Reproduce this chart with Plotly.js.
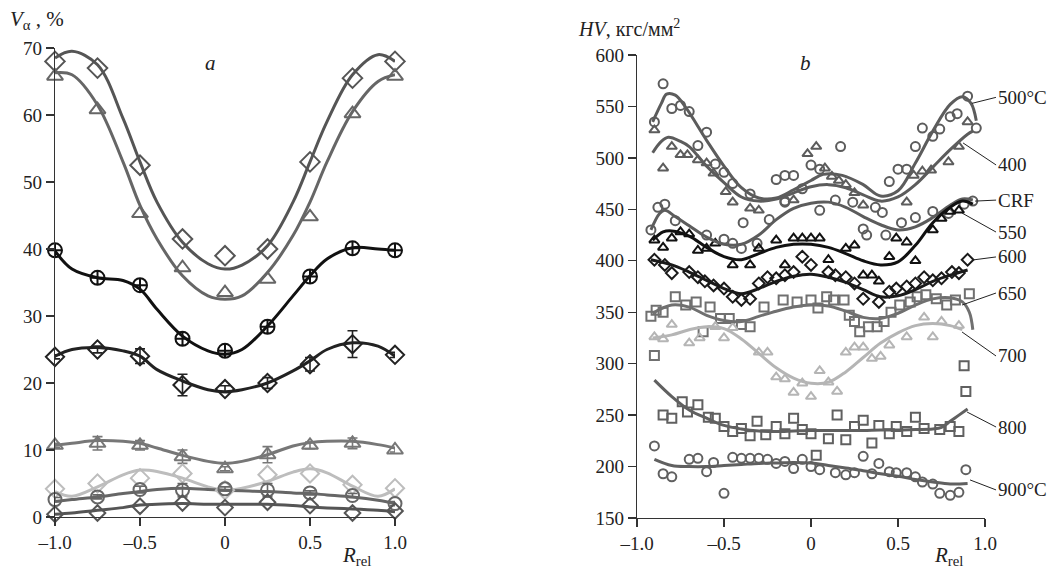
<!DOCTYPE html>
<html>
<head>
<meta charset="utf-8">
<script src="https://cdn.plot.ly/plotly-3.0.1.min.js"></script>
<style>html,body{margin:0;padding:0;background:#fff;}#chart{width:1064px;height:575px;}</style>
</head>
<body>
<div id="chart"></div>
<script>
// ---------- Panel a: V_alpha (%) vs R_rel ----------
const rLeft = [-1, -0.75, -0.5, -0.25, 0, 0.25, 0.5, 0.75, 1];
const vaCRF = [68, 67, 52.5, 41.5, 39, 40, 53, 65.5, 68];
const va500 = [65.8, 60.8, 45.3, 37.2, 33.5, 35.5, 44.8, 60.2, 65.8];
const va550 = [39.8, 35.7, 34.6, 26.6, 24.8, 28.4, 35.9, 40.1, 39.8];
const va600 = [23.9, 25, 24, 19.7, 19.1, 20, 22.8, 25.8, 24.2];
const va600err = [0.3, 0.5, 1.1, 1.6, 0.5, 0.8, 1, 2, 0.4];
const va650 = [10.7, 11, 10.7, 9, 7.2, 9.3, 10.7, 11, 10];
const va650err = [0.3, 1, 0.7, 1, 0.3, 1.2, 0.5, 0.8, 0.3];
const va700 = [4.2, 5, 5.8, 6.5, 4, 6.3, 6.5, 4.8, 4.3];
const va800 = [2.6, 3, 4.1, 4, 4.2, 4, 3.6, 3.2, 2];
const va800err = [0.3, 0.3, 0.5, 1, 0.3, 1, 0.3, 0.3, 0.3];
const va900 = [0.4, 0.6, 1.6, 2.1, 1.4, 2.2, 1.7, 0.6, 0.9];

const fitLeftX = [-1, -0.9, -0.75, -0.6, -0.5, -0.4, -0.25, -0.1, 0, 0.1, 0.25, 0.4, 0.5, 0.6, 0.75, 0.9, 1];
const fitCRF = [68.5, 69.5, 67.5, 59.5, 53, 47, 41, 37.8, 37, 37.6, 40.5, 47, 53, 59, 66, 69, 68];
const fit500 = [66.3, 66, 61.5, 53, 46.5, 41.5, 36, 33, 32.5, 33, 36.5, 42, 47, 53, 60.5, 65, 66];
const fit550 = [39.7, 37, 35.7, 35.3, 34, 31, 27, 24.8, 24.3, 25, 28.5, 33, 36, 38.5, 40.2, 40, 39.8];
const fit600 = [24, 25, 25.3, 24.8, 24, 22, 20.3, 19, 18.7, 19, 20, 21.8, 23.3, 25, 26, 25.5, 24];
const fit650 = [10.7, 11, 11.4, 11.3, 11, 10.3, 9.2, 8.3, 8, 8.3, 9.3, 10.6, 11.1, 11.3, 11.3, 10.8, 10.3];
const fit700 = [3.8, 3.1, 4.5, 6.3, 7, 6.8, 5.8, 4.5, 4, 4.3, 5.3, 6.7, 7.2, 6.6, 4.6, 3.1, 4.2];
const fit800 = [2.3, 2.6, 3, 3.5, 3.8, 4.1, 4.3, 4.1, 4, 3.9, 3.8, 3.6, 3.5, 3.3, 3, 2.5, 2];
const fit900 = [0.4, 0.6, 1, 1.4, 1.8, 1.9, 2, 1.9, 1.9, 1.9, 1.9, 1.7, 1.5, 1.35, 1.2, 1, 0.8];

// ---------- Panel b: HV (kgf/mm2) vs R_rel ----------
const hv500x = [-0.9,-0.85,-0.8,-0.75,-0.7,-0.65,-0.6,-0.55,-0.5,-0.45,-0.35,-0.2,-0.15,-0.15,-0.1,-0.05,0.0,0.05,0.17,0.45,0.5,0.55,0.6,0.64,0.7,0.74,0.8,0.84,0.9,0.95];
const hv500y = [535,572,548,551,545,512,525,494,486,475,465,479,483,458,483,470,493,489,511,477,489,489,511,529,521,528,540,543,560,529];
const hv400x = [-0.9,-0.85,-0.8,-0.75,-0.71,-0.65,-0.6,-0.56,-0.49,-0.45,-0.35,-0.3,-0.1,-0.02,0.03,0.08,0.12,0.16,0.2,0.25,0.3,0.55,0.59,0.64,0.69,0.79,0.85,0.9];
const hv400y = [527,490,511,503,503,498,495,485,467,457,451,449,459,504,511,490,482,478,474,466,454,457,483,487,488,496,511,535];
const hvCRFx = [-0.92,-0.88,-0.84,-0.78,-0.6,-0.5,-0.45,-0.4,-0.39,-0.31,-0.24,-0.15,0.05,0.14,0.24,0.3,0.32,0.37,0.41,0.43,0.52,0.6,0.7,0.79,0.88,0.93];
const hvCRFy = [430,452,455,439,425,421,417,412,437,417,440,457,449,459,457,431,425,452,447,425,437,442,448,446,455,458];
const hv550x = [-0.9,-0.85,-0.8,-0.75,-0.7,-0.65,-0.6,-0.55,-0.45,-0.35,-0.3,-0.2,-0.15,-0.1,-0.05,0.0,0.05,0.1,0.2,0.25,0.3,0.35,0.39,0.45,0.49,0.55,0.6,0.7,0.75,0.8,0.85];
const hv550y = [420,413,422,428,426,410,412,417,396,396,412,420,396,422,422,422,422,401,412,415,386,386,380,404,422,418,400,430,441,448,449];
const hv600x = [-0.9,-0.84,-0.8,-0.7,-0.65,-0.61,-0.56,-0.5,-0.45,-0.4,-0.35,-0.3,-0.25,-0.2,-0.15,-0.1,-0.05,0.0,0.1,0.14,0.2,0.25,0.3,0.39,0.45,0.49,0.55,0.6,0.65,0.7,0.75,0.81,0.85,0.9];
const hv600y = [401,396,388,389,384,380,376,373,365,362,363,378,384,383,386,389,404,396,389,386,384,378,363,360,370,373,375,378,384,381,383,389,388,401];
const hv650x = [-0.92,-0.89,-0.85,-0.78,-0.72,-0.66,-0.62,-0.58,-0.52,-0.47,-0.4,-0.35,-0.27,-0.16,-0.08,0.0,0.04,0.09,0.13,0.19,0.22,0.25,0.28,0.33,0.38,0.42,0.46,0.51,0.57,0.61,0.66,0.72,0.78,0.83,0.91,-0.9];
const hv650y = [346,352,350,365,357,360,331,355,344,344,338,336,355,362,360,362,354,365,362,362,347,341,331,336,336,341,350,357,360,365,367,363,357,362,368,308];
const hv700x = [-0.9,-0.85,-0.8,-0.7,-0.64,-0.55,-0.5,-0.45,-0.3,-0.25,-0.2,-0.15,-0.1,-0.05,0.0,0.05,0.1,0.15,0.2,0.25,0.3,0.35,0.4,0.45,0.55,0.65,0.7,0.75,0.85];
const hv700y = [326,324,338,320,325,336,325,335,311,311,287,285,272,281,268,293,282,273,311,316,316,305,307,318,326,345,326,341,337];
const hv800x = [-0.85,-0.8,-0.74,-0.71,-0.65,-0.59,-0.55,-0.5,-0.45,-0.4,-0.35,-0.31,-0.26,-0.2,-0.15,-0.1,-0.05,0.0,0.03,0.1,0.15,0.2,0.25,0.3,0.35,0.39,0.45,0.49,0.55,0.6,0.65,0.74,0.8,0.85,0.89,0.88];
const hv800y = [250,247,263,253,260,248,247,239,234,237,230,244,231,239,232,247,236,232,211,227,250,226,239,245,223,240,232,239,234,248,237,236,239,234,273,298];
const hv900x = [-0.9,-0.85,-0.8,-0.7,-0.65,-0.6,-0.56,-0.5,-0.45,-0.4,-0.35,-0.3,-0.25,-0.2,-0.15,-0.1,-0.05,0.0,0.05,0.14,0.2,0.25,0.3,0.35,0.39,0.45,0.49,0.55,0.6,0.64,0.7,0.74,0.8,0.85,0.89];
const hv900y = [220,193,190,207,208,195,204,174,209,208,208,208,207,203,205,198,207,200,197,194,192,194,210,193,203,195,194,194,190,185,183,174,172,175,197];

const fit500bx = [-0.91,-0.86,-0.83,-0.78,-0.72,-0.6,-0.5,-0.4,-0.3,-0.2,-0.1,0,0.07,0.18,0.3,0.4,0.5,0.6,0.7,0.8,0.87,0.92,0.95];
const fit500by = [535,553,562,561,549,517,492,471,461,461,469,478,484,483,474,463,468,495,526,552,559.5,553,536];
const fit400bx = [-0.91,-0.86,-0.82,-0.75,-0.7,-0.6,-0.5,-0.4,-0.3,-0.2,-0.1,0,0.1,0.2,0.3,0.4,0.5,0.6,0.7,0.8,0.9,0.93];
const fit400by = [505,516,520,516,511,492,476,462,458,460,466,472,474,471,464,458,462,474,491,508,523,526];
const fitCRFbx = [-0.92,-0.87,-0.84,-0.78,-0.7,-0.6,-0.5,-0.4,-0.3,-0.2,-0.1,0,0.1,0.2,0.3,0.4,0.5,0.6,0.7,0.8,0.87,0.93];
const fitCRFby = [430,446,449,443,434,423,416,416,425,440,451,456,457,452,443,435,430,433,442,454,460,459];
const fit550bx = [-0.91,-0.85,-0.8,-0.7,-0.6,-0.5,-0.4,-0.3,-0.2,-0.1,0,0.1,0.2,0.3,0.4,0.5,0.6,0.7,0.8,0.87,0.93];
const fit550by = [420,428,429,424,413,404,401,407,413,416,416,413,407,400,396,399,415,437,452,458,455];
const fit600bx = [-0.92,-0.8,-0.7,-0.6,-0.5,-0.4,-0.3,-0.2,-0.1,0,0.1,0.2,0.3,0.4,0.5,0.6,0.7,0.8,0.9];
const fit600by = [401,396,389,381,373,368,373,380,385,387,384,379,372,365,366,372,380,386,391];
const fit650bx = [-0.91,-0.8,-0.7,-0.6,-0.5,-0.4,-0.3,-0.2,-0.1,0,0.1,0.2,0.3,0.4,0.5,0.6,0.7,0.8,0.87,0.91,0.93];
const fit650by = [349,357,355,347,342,341,346,351,355,357,356,351,345,344,349,357,363,364,360,350,333];
const fit700bx = [-0.91,-0.8,-0.7,-0.6,-0.5,-0.4,-0.3,-0.2,-0.1,0,0.1,0.2,0.3,0.4,0.5,0.6,0.7,0.8,0.87];
const fit700by = [325,328,333,336,334,324,310,296,286,281,282,292,306,320,330,337,339,337,333];
const fit800bx = [-0.9,-0.8,-0.7,-0.6,-0.5,-0.4,-0.3,-0.2,-0.1,0,0.1,0.2,0.3,0.4,0.5,0.6,0.7,0.75,0.8,0.85,0.9];
const fit800by = [284,268,255,247,240,236.5,234.5,234,234.5,235,235,235,235,235.5,235.5,236,236.5,238,244,250,256];
const fit900bx = [-0.9,-0.8,-0.7,-0.6,-0.5,-0.4,-0.3,-0.2,-0.1,0,0.1,0.2,0.3,0.4,0.5,0.6,0.7,0.8,0.9];
const fit900by = [207,201,200,200,201,202,203,203.5,204,203.5,201,198.5,196,193,190.5,187.5,185,183,183.5];

const rTickVals = [-1, -0.5, 0, 0.5, 1];
const rTickText = ['\u20131.0', '\u20130.5', '0', '0.5', '1.0'];

const SERIF = 'Liberation Serif';
const traces = [];

function pts(x, y, ax, symbol, color, size, err, lw) {
  const t = {x: x, y: y, xaxis: ax[0], yaxis: ax[1], mode: 'markers', type: 'scatter', cliponaxis: false,
    hoverinfo: 'skip', showlegend: false,
    marker: {symbol: symbol, size: size, color: color, line: {color: color, width: lw || 2}}};
  if (err) t.error_y = {type: 'data', array: err, visible: true, color: color, thickness: 1.6, width: 5};
  traces.push(t);
}
function fit(x, y, ax, color, w) {
  traces.push({x: x, y: y, xaxis: ax[0], yaxis: ax[1], mode: 'lines', type: 'scatter', cliponaxis: false,
    hoverinfo: 'skip', showlegend: false,
    line: {shape: 'spline', smoothing: 1, color: color, width: w || 3}});
}
const A = ['x', 'y'], B = ['x2', 'y2'];

// panel a curves then points
fit(fitLeftX, fitCRF, A, '#555');
fit(fitLeftX, fit500, A, '#666');
fit(fitLeftX, fit550, A, '#111');
fit(fitLeftX, fit600, A, '#222');
fit(fitLeftX, fit650, A, '#777');
fit(fitLeftX, fit700, A, '#bdbdbd');
fit(fitLeftX, fit800, A, '#666');
fit(fitLeftX, fit900, A, '#555');
pts(rLeft, vaCRF, A, 'diamond-open', '#555', 15);
pts(rLeft, va500, A, 'triangle-up-open', '#666', 14);
pts(rLeft, va550, A, 'circle-cross-open', '#111', 14);
pts(rLeft, va600, A, 'diamond-open', '#222', 14, va600err);
pts(rLeft, va650, A, 'triangle-up-open', '#777', 14, va650err);
pts(rLeft, va700, A, 'diamond-open', '#bdbdbd', 14);
pts(rLeft, va800, A, 'circle-open', '#666', 13, va800err);
pts(rLeft, va900, A, 'diamond-open', '#555', 12);

// panel b points then curves
pts(hv500x, hv500y, B, 'circle-open', '#5c5c5c', 9, null, 2);
pts(hv400x, hv400y, B, 'triangle-up-open', '#5c5c5c', 9, null, 2);
pts(hvCRFx, hvCRFy, B, 'circle-open', '#5c5c5c', 9, null, 2);
pts(hv550x, hv550y, B, 'triangle-up-open', '#111', 9, null, 2);
pts(hv600x, hv600y, B, 'diamond-open', '#1a1a1a', 9, null, 2);
pts(hv650x, hv650y, B, 'square-open', '#707070', 9, null, 2);
pts(hv700x, hv700y, B, 'triangle-up-open', '#b5b5b5', 9, null, 2);
pts(hv800x, hv800y, B, 'square-open', '#606060', 9, null, 2);
pts(hv900x, hv900y, B, 'circle-open', '#606060', 9, null, 2);
fit(fit500bx, fit500by, B, '#5c5c5c');
fit(fit400bx, fit400by, B, '#5c5c5c');
fit(fitCRFbx, fitCRFby, B, '#5c5c5c');
fit(fit550bx, fit550by, B, '#111');
fit(fit600bx, fit600by, B, '#1a1a1a');
fit(fit650bx, fit650by, B, '#707070');
fit(fit700bx, fit700by, B, '#b5b5b5');
fit(fit800bx, fit800by, B, '#606060');
fit(fit900bx, fit900by, B, '#606060');

const tickFont = {family: SERIF, size: 19, color: '#222'};
function axis(extra) {
  return Object.assign({showline: true, linecolor: '#333', linewidth: 1.3, ticks: 'outside', ticklen: 8,
    tickwidth: 1.3, tickcolor: '#333', showgrid: false, zeroline: false, tickfont: tickFont,
    automargin: false, fixedrange: true}, extra);
}

function lbl(text, x, y, xref, yref, ax, ay) {
  return {text: text, x: x, y: y, xref: xref, yref: yref, showarrow: true, arrowhead: 0, arrowwidth: 1,
    arrowcolor: '#222', ax: ax, ay: ay, xanchor: 'left', yanchor: 'middle', standoff: 0,
    font: {family: SERIF, size: 19, color: '#222'}};
}
function txt(text, x, y, xanchor, size) {
  return {text: text, x: x, y: y, xref: 'paper', yref: 'paper', showarrow: false, xanchor: xanchor,
    yanchor: 'middle', font: {family: SERIF, size: size || 20, color: '#222'}};
}

const annotations = [
  lbl('CRF', 1.047, 67.9, 'x', 'y', 21, 0),
  lbl('500°C', 1.047, 65.4, 'x', 'y', 21, 24),
  lbl('550', 1.047, 39.8, 'x', 'y', 21, -9),
  lbl('600', 1.018, 24.2, 'x', 'y', 26, -12),
  lbl('650', 1.03, 10.3, 'x', 'y', 24, -11),
  lbl('700', 1.012, 5.1, 'x', 'y', 27, -14),
  lbl('800', 1.041, 1.8, 'x', 'y', 22, -8),
  lbl('900°C', 1.03, 0.6, 'x', 'y', 24, 10),
  lbl('500°C', 0.925, 553, 'x2', 'y2', 24, -6),
  lbl('400', 0.874, 514.5, 'x2', 'y2', 33, 22),
  lbl('CRF', 0.943, 458, 'x2', 'y2', 21, -1),
  lbl('550', 0.868, 446.4, 'x2', 'y2', 34, 19),
  lbl('600', 0.931, 400.8, 'x2', 'y2', 23, -3),
  lbl('650', 0.868, 357, 'x2', 'y2', 34, -12),
  lbl('700', 0.868, 330.8, 'x2', 'y2', 34, 24),
  lbl('800', 0.897, 253, 'x2', 'y2', 29, 15),
  lbl('900°C', 0.914, 187, 'x2', 'y2', 26, 10),
  txt('<i>a</i>', 210/1064, 1 - 63/575, 'center', 21),
  txt('<i>b</i>', 805/1064, 1 - 63/575, 'center', 21),
  txt('<i>V</i><sub>α</sub> , %', 8/1064, 1 - 20/575, 'left', 21),
  txt('<i>HV</i>, кгс/мм<sup>2</sup>', 576/1064, 1 - 28/575, 'left', 20),
  txt('<i>R</i><sub>rel</sub>', 356/1064, 1 - 556/575, 'center', 21),
  txt('<i>R</i><sub>rel</sub>', 948/1064, 1 - 556/575, 'center', 21)
];

const layout = {
  width: 1064, height: 575, margin: {l: 0, r: 0, t: 0, b: 0},
  paper_bgcolor: '#fff', plot_bgcolor: '#fff', showlegend: false,
  font: {family: SERIF, color: '#222'},
  xaxis: axis({domain: [55/1064, 395/1064], range: [-1, 1], anchor: 'y', tickvals: rTickVals, ticktext: rTickText}),
  yaxis: axis({domain: [(575-517)/575, (575-48)/575], range: [0, 70], anchor: 'x', dtick: 10, tick0: 0}),
  xaxis2: axis({domain: [637/1064, 985/1064], range: [-1, 1], anchor: 'y2', tickvals: rTickVals, ticktext: rTickText}),
  yaxis2: axis({domain: [(575-518)/575, (575-55)/575], range: [150, 600], anchor: 'x2', dtick: 50, tick0: 150}),
  annotations: annotations
};

Plotly.newPlot('chart', traces, layout, {staticPlot: true, displayModeBar: false});
</script>
</body>
</html>
